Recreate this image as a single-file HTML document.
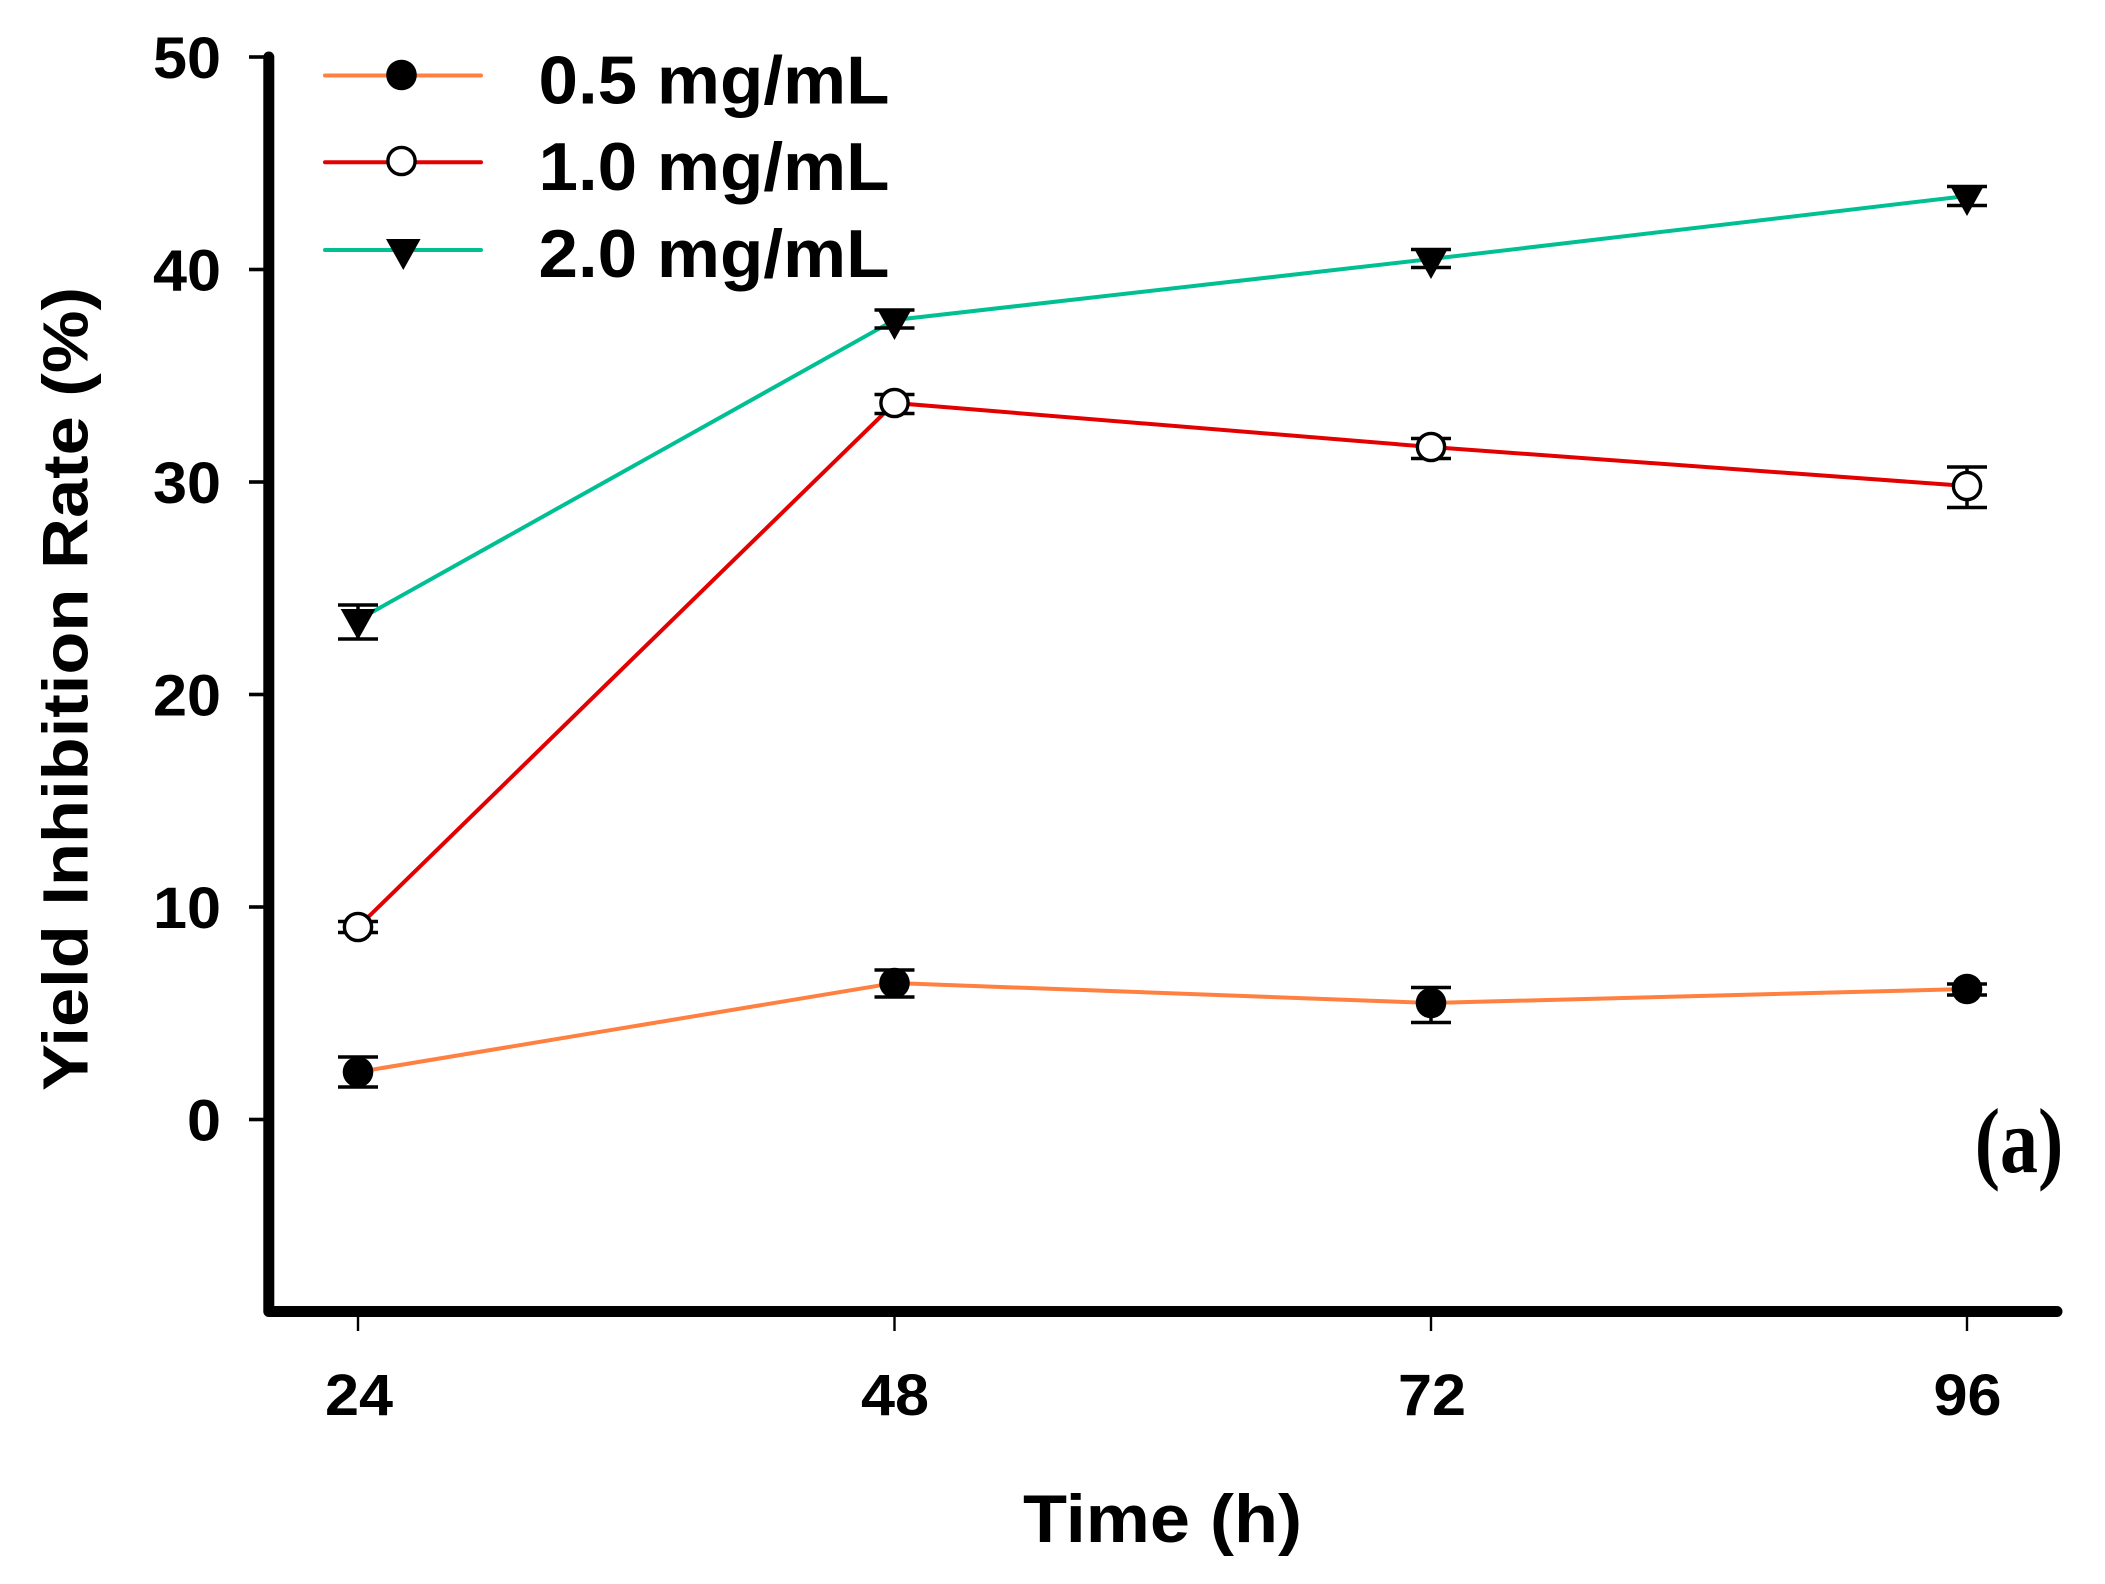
<!DOCTYPE html>
<html>
<head>
<meta charset="utf-8">
<style>
  html, body { margin: 0; padding: 0; background: #ffffff; }
  svg { display: block; }
  text { font-family: "Liberation Sans", Arial, sans-serif; font-weight: bold; fill: #000; }
</style>
</head>
<body>
<svg width="2105" height="1584" viewBox="0 0 2105 1584" xmlns="http://www.w3.org/2000/svg">
  <rect x="0" y="0" width="2105" height="1584" fill="#ffffff"/>

  <!-- Axes -->
  <path d="M268.8,57 V1311.5 H2057" fill="none" stroke="#000" stroke-width="11" stroke-linecap="round" stroke-linejoin="round"/>

  <!-- Y ticks -->
  <g stroke="#000" stroke-width="3.6">
    <line x1="249" y1="57" x2="264" y2="57"/>
    <line x1="249" y1="269.5" x2="264" y2="269.5"/>
    <line x1="249" y1="482" x2="264" y2="482"/>
    <line x1="249" y1="694.5" x2="264" y2="694.5"/>
    <line x1="249" y1="907" x2="264" y2="907"/>
    <line x1="249" y1="1119.5" x2="264" y2="1119.5"/>
  </g>
  <!-- X ticks -->
  <g stroke="#000" stroke-width="2.4">
    <line x1="358" y1="1316" x2="358" y2="1331"/>
    <line x1="894.5" y1="1316" x2="894.5" y2="1331"/>
    <line x1="1431" y1="1316" x2="1431" y2="1331"/>
    <line x1="1967" y1="1316" x2="1967" y2="1331"/>
  </g>

  <!-- Y tick labels -->
  <g font-size="58" text-anchor="end">
    <text x="221" y="77.8" textLength="68" lengthAdjust="spacingAndGlyphs">50</text>
    <text x="221" y="290.3" textLength="68" lengthAdjust="spacingAndGlyphs">40</text>
    <text x="221" y="502.8" textLength="68" lengthAdjust="spacingAndGlyphs">30</text>
    <text x="221" y="715.3" textLength="68" lengthAdjust="spacingAndGlyphs">20</text>
    <text x="221" y="927.8" textLength="68" lengthAdjust="spacingAndGlyphs">10</text>
    <text x="221" y="1140.3" textLength="34" lengthAdjust="spacingAndGlyphs">0</text>
  </g>

  <!-- X tick labels -->
  <g font-size="58" text-anchor="middle">
    <text x="359" y="1415" textLength="68" lengthAdjust="spacingAndGlyphs">24</text>
    <text x="895" y="1415" textLength="68" lengthAdjust="spacingAndGlyphs">48</text>
    <text x="1432" y="1415" textLength="68" lengthAdjust="spacingAndGlyphs">72</text>
    <text x="1967.5" y="1415" textLength="68" lengthAdjust="spacingAndGlyphs">96</text>
  </g>

  <!-- Axis titles -->
  <text x="1162.5" y="1542" font-size="68" text-anchor="middle" textLength="279" lengthAdjust="spacingAndGlyphs">Time (h)</text>
  <text transform="translate(87.3,689) rotate(-90)" x="0" y="0" font-size="64" text-anchor="middle" textLength="804" lengthAdjust="spacingAndGlyphs">Yield Inhibition Rate (%)</text>

  <!-- Panel label -->
  <text transform="translate(2019,1172) scale(1,1.21)" x="0" y="0" font-size="76" text-anchor="middle" style="font-family:'Liberation Serif','Times New Roman',serif;font-weight:bold;">(a)</text>

  <!-- Series lines -->
  <polyline points="358,1072 894.5,983 1431,1003 1967,989" fill="none" stroke="#FF8040" stroke-width="4"/>
  <polyline points="358,927 894.5,403 1431,447 1967,486" fill="none" stroke="#E30000" stroke-width="4"/>
  <polyline points="358,620 894.5,320 1431,259 1967,196" fill="none" stroke="#00C093" stroke-width="4"/>

  <!-- Error bars -->
  <g stroke="#000" stroke-width="3.5" fill="none">
    <!-- orange -->
    <path d="M358,1057 V1087 M338,1057 H378 M338,1087 H378"/>
    <path d="M894.5,970 V997 M874.5,970 H914.5 M874.5,997 H914.5"/>
    <path d="M1431,987.5 V1022.5 M1411,987.5 H1451 M1411,1022.5 H1451"/>
    <path d="M1967,984 V995 M1947,984 H1987 M1947,995 H1987"/>
    <!-- red -->
    <path d="M358,921.5 V932.5 M338,921.5 H378 M338,932.5 H378"/>
    <path d="M894.5,394.5 V413.5 M874.5,394.5 H914.5 M874.5,413.5 H914.5"/>
    <path d="M1431,438.5 V458.5 M1411,438.5 H1451 M1411,458.5 H1451"/>
    <path d="M1967,467 V507.5 M1947,467 H1987 M1947,507.5 H1987"/>
    <!-- green -->
    <path d="M358,605 V639 M338,605 H378 M338,639 H378"/>
    <path d="M894.5,310 V328 M874.5,310 H914.5 M874.5,328 H914.5"/>
    <path d="M1431,249.5 V267.5 M1411,249.5 H1451 M1411,267.5 H1451"/>
    <path d="M1967,186.5 V205.5 M1947,186.5 H1987 M1947,205.5 H1987"/>
  </g>

  <!-- Markers: orange filled circles -->
  <g fill="#000">
    <circle cx="358" cy="1072" r="15.3"/>
    <circle cx="894.5" cy="983" r="15.3"/>
    <circle cx="1431" cy="1003" r="15.3"/>
    <circle cx="1967" cy="989" r="15.3"/>
  </g>
  <!-- red open circles -->
  <g fill="#fff" stroke="#000" stroke-width="3.4">
    <circle cx="358" cy="927" r="13.6"/>
    <circle cx="894.5" cy="403" r="13.6"/>
    <circle cx="1431" cy="447" r="13.6"/>
    <circle cx="1967" cy="486" r="13.6"/>
  </g>
  <!-- green down triangles -->
  <g fill="#000">
    <polygon points="340.7,609 375.3,609 358,640"/>
    <polygon points="877.2,309 911.8,309 894.5,340"/>
    <polygon points="1413.7,248 1448.3,248 1431,279"/>
    <polygon points="1949.7,185 1984.3,185 1967,216"/>
  </g>

  <!-- Legend -->
  <g stroke-width="4" stroke-linecap="round">
    <line x1="325" y1="75.5" x2="481" y2="75.5" stroke="#FF8040"/>
    <line x1="325" y1="162.3" x2="481" y2="162.3" stroke="#E30000"/>
    <line x1="325" y1="250" x2="481" y2="250" stroke="#00C093"/>
  </g>
  <circle cx="401.5" cy="75" r="15.3" fill="#000"/>
  <circle cx="401.5" cy="161" r="13.6" fill="#fff" stroke="#000" stroke-width="3.4"/>
  <polygon points="386,239 420.6,239 403.3,270" fill="#000"/>

  <g font-size="68">
    <text x="538.5" y="103.6" textLength="351" lengthAdjust="spacingAndGlyphs">0.5 mg/mL</text>
    <text x="538.5" y="190" textLength="351" lengthAdjust="spacingAndGlyphs">1.0 mg/mL</text>
    <text x="538.5" y="277" textLength="351" lengthAdjust="spacingAndGlyphs">2.0 mg/mL</text>
  </g>
</svg>
</body>
</html>
